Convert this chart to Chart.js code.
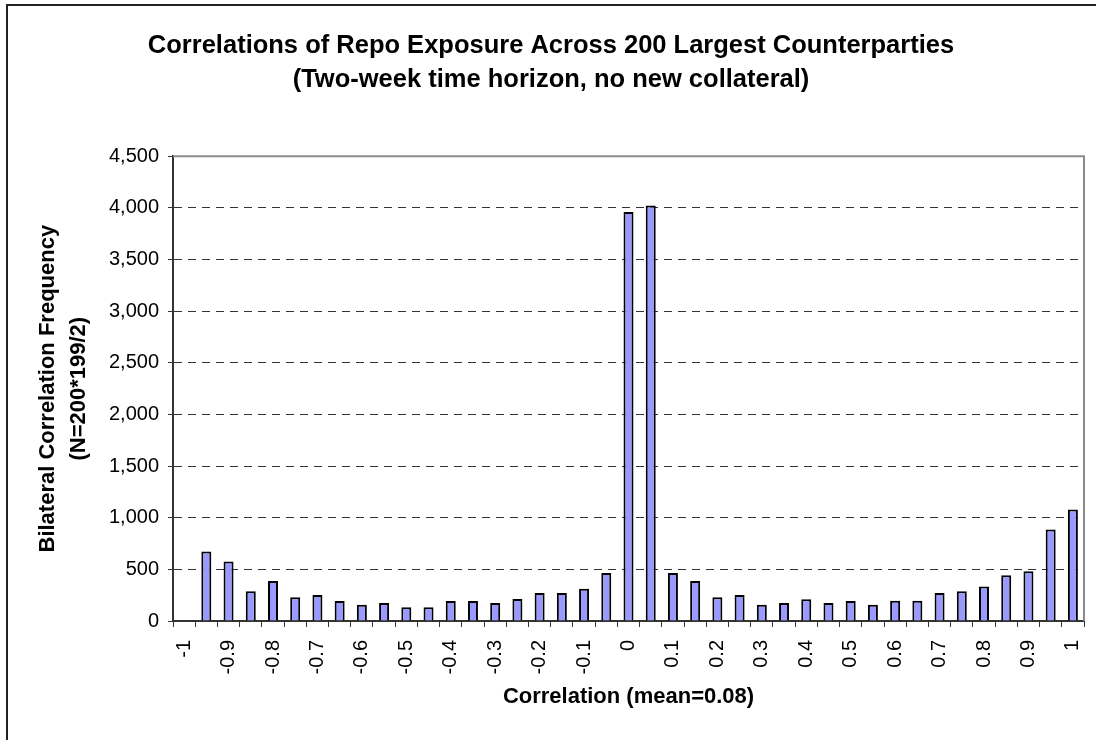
<!DOCTYPE html>
<html>
<head>
<meta charset="utf-8">
<script src="https://cdn.jsdelivr.net/npm/chart.js@4.4.1/dist/chart.umd.min.js"></script>
<style>
body { margin: 0; background: #ffffff; }
#wrap { width: 1096px; height: 740px; }
</style>
</head>
<body>
<div id="wrap"><canvas id="histo" width="1096" height="740"></canvas></div>
<script>
// correlation buckets (x axis categories)
var categories = ['-1', '-0.95', '-0.9', '-0.85', '-0.8', '-0.75', '-0.7', '-0.65', '-0.6', '-0.55',
    '-0.5', '-0.45', '-0.4', '-0.35', '-0.3', '-0.25', '-0.2', '-0.15', '-0.1', '-0.05',
    '0', '0.05', '0.1', '0.15', '0.2', '0.25', '0.3', '0.35', '0.4', '0.45',
    '0.5', '0.55', '0.6', '0.65', '0.7', '0.75', '0.8', '0.85', '0.9', '0.95', '1'];

// bilateral correlation frequency per bucket
var frequency = [0, 674, 577, 287, 387, 229, 252, 194, 158, 174,
    132, 132, 194, 194, 174, 213, 271, 271, 313, 465,
    3961, 4025, 465, 387, 229, 252, 158, 174, 210, 174,
    194, 158, 196, 196, 272, 288, 333, 442, 481, 885, 1080];

// labels actually printed under the axis
var shownLabels = ['-1', '-0.9', '-0.8', '-0.7', '-0.6', '-0.5', '-0.4', '-0.3', '-0.2', '-0.1',
    '0', '0.1', '0.2', '0.3', '0.4', '0.5', '0.6', '0.7', '0.8', '0.9', '1'];

var yMin = 0;
var yMax = 4500;
var yStep = 500;

var fontFam = "'Liberation Sans', Arial, sans-serif";

// gray plot frame on top/right + outer chart border (left/top)
var framePlugin = {
    id: 'frame',
    afterDraw: function(chart) {
        var ctx = chart.ctx;
        var a = chart.chartArea;
        ctx.save();
        ctx.strokeStyle = '#8c8c8c';
        ctx.lineWidth = 2;
        ctx.beginPath();
        ctx.moveTo(a.left, a.top);
        ctx.lineTo(a.right, a.top);
        ctx.lineTo(a.right, a.bottom);
        ctx.stroke();
        ctx.strokeStyle = '#222222';
        ctx.lineWidth = 2;
        ctx.beginPath();
        ctx.moveTo(7, 740);
        ctx.lineTo(7, 5);
        ctx.lineTo(1096, 5);
        ctx.stroke();
        ctx.restore();
    }
};

var chart = new Chart(document.getElementById('histo'), {
    type: 'bar',
    data: {
        labels: categories,
        datasets: [{
            data: frequency,
            backgroundColor: '#9999ff',
            borderColor: '#000000',
            borderWidth: 2,
            barPercentage: 0.45,
            categoryPercentage: 1
        }]
    },
    options: {
        responsive: false,
        animation: false,
        layout: { padding: { left: 6, right: 0, top: 0, bottom: 0 } },
        plugins: {
            legend: { display: false },
            tooltip: { enabled: false },
            title: {
                display: true,
                text: ['Correlations of Repo Exposure Across 200 Largest Counterparties',
                    '(Two-week time horizon, no new collateral)'],
                color: '#000000',
                font: { family: fontFam, size: 25.5, weight: 'bold', lineHeight: 1.34 },
                padding: { top: 29, bottom: 59 }
            }
        },
        scales: {
            x: {
                grid: {
                    display: true,
                    drawOnChartArea: false,
                    drawTicks: true,
                    tickLength: 6,
                    color: '#333333',
                    offset: true
                },
                border: { display: true, color: '#333333', width: 2 },
                ticks: {
                    autoSkip: false,
                    maxRotation: 90,
                    minRotation: 90,
                    padding: 13,
                    color: '#000000',
                    font: { family: fontFam, size: 20 },
                    callback: function(value, index) {
                        var lab = categories[index];
                        return shownLabels.indexOf(lab) >= 0 ? lab : '';
                    }
                },
                title: {
                    display: true,
                    text: 'Correlation (mean=0.08)',
                    color: '#000000',
                    font: { family: fontFam, size: 22, weight: 'bold', lineHeight: 1.2 },
                    padding: { top: 0, bottom: 30 }
                },
                afterFit: function(scale) {
                    scale.height = 119;
                    scale.paddingLeft = 0;
                    scale.paddingRight = 12;
                }
            },
            y: {
                min: yMin,
                max: yMax,
                grid: {
                    color: function(c) {
                        if (c.tick && (c.tick.value === yMin || c.tick.value === yMax)) {
                            return 'rgba(0,0,0,0)';
                        }
                        return '#333333';
                    },
                    tickColor: '#333333',
                    tickBorderDash: [],
                    tickLength: 5,
                    lineWidth: 1
                },
                border: { display: true, color: '#333333', width: 2, dash: [8, 6] },
                ticks: {
                    stepSize: yStep,
                    padding: 9,
                    color: '#000000',
                    font: { family: fontFam, size: 20 },
                    callback: function(value) {
                        return value.toLocaleString('en-US');
                    }
                },
                title: {
                    display: true,
                    text: ['Bilateral Correlation Frequency', '(N=200*199/2)'],
                    color: '#000000',
                    font: { family: fontFam, size: 22, weight: 'bold', lineHeight: 1.4 },
                    padding: { top: 27, bottom: 0 }
                },
                afterFit: function(scale) {
                    scale.width = 167;
                }
            }
        }
    },
    plugins: [framePlugin]
});
</script>
</body>
</html>
